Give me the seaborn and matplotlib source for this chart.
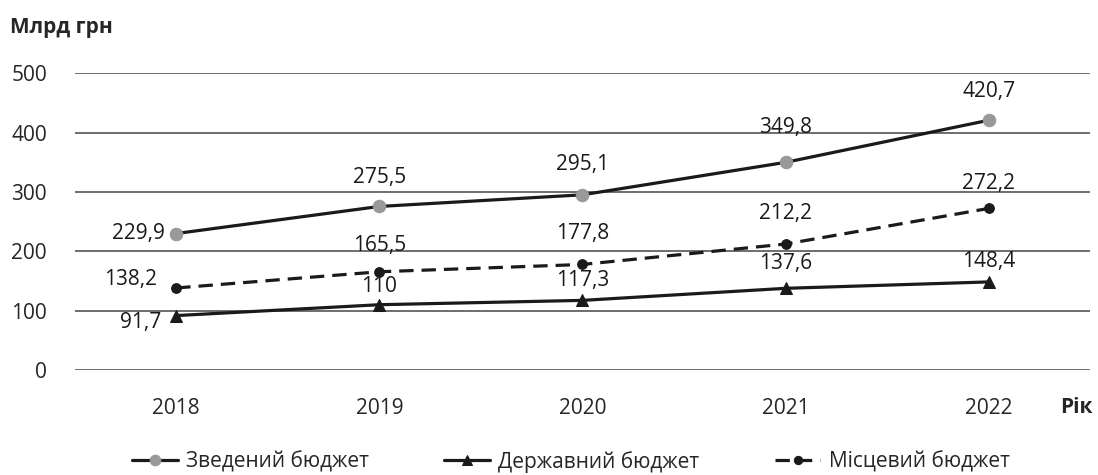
import matplotlib
matplotlib.use("Agg")
import matplotlib.pyplot as plt
import pandas as pd
import seaborn as sns

years = [2018, 2019, 2020, 2021, 2022]
zvedenyi = [229.9, 275.5, 295.1, 349.8, 420.7]
derzhavnyi = [91.7, 110, 117.3, 137.6, 148.4]
mistsevyi = [138.2, 165.5, 177.8, 212.2, 272.2]
series_names = ["Зведений бюджет", "Державний бюджет", "Місцевий бюджет"]
y_ticks = [0, 100, 200, 300, 400, 500]

sns.set_theme(style="white")
plt.rcParams["font.family"] = ["Open Sans", "DejaVu Sans"]

fig = plt.figure(figsize=(10.98, 4.75), dpi=100)
ax = fig.add_axes([0.068, 0.221, 0.925, 0.625])

FS = 15
INK = "#1a1a1a"

def fmt(v):
    return f"{v:g}".replace(".", ",")

# lines
styles = [
    dict(ls="-", marker="o", mfc="#999999", ms=9),
    dict(ls="-", marker="^", mfc=INK, ms=9),
    dict(ls=(0, (4.5, 2.5)), marker="o", mfc=INK, ms=7),
]
for name, vals, st in zip(series_names, [zvedenyi, derzhavnyi, mistsevyi], styles):
    df = pd.DataFrame({"year": years, "value": vals})
    sns.lineplot(data=df, x="year", y="value", ax=ax, color=INK, linestyle=st["ls"],
                 linewidth=2.3, marker=st["marker"], markerfacecolor=st["mfc"],
                 markeredgecolor=st["mfc"], markersize=st["ms"], label=name, zorder=3)

# value labels: first year to the left of the point, the rest above it
def label(vals, first_off, offsets):
    for i, (x, v) in enumerate(zip(years, vals)):
        if i == 0:
            ax.annotate(fmt(v), (x, v), xytext=first_off, textcoords="offset points",
                        ha="right", va="center", fontsize=FS, color=INK)
        else:
            ax.annotate(fmt(v), (x, v), xytext=(0, offsets[i - 1]), textcoords="offset points",
                        ha="center", va="center", fontsize=FS, color=INK)

label(zvedenyi, (-8, 0), [21, 22, 25, 21])
label(mistsevyi, (-14, 6), [19, 22, 22, 18])
label(derzhavnyi, (-11, -5), [13, 14, 18, 15])

ax.set_xlim(2017.5, 2022.5)
ax.set_ylim(0, 500)
ax.set_xticks(years)
ax.set_xticklabels([str(y) for y in years], fontsize=FS)
ax.set_yticks(y_ticks)
ax.set_yticklabels([str(t) for t in y_ticks], fontsize=FS)
ax.tick_params(axis="x", pad=20, length=0)
ax.tick_params(axis="y", pad=20, length=0)
ax.yaxis.grid(True, color="#555555", linewidth=1.2)
ax.set_axisbelow(True)
for s in ax.spines.values():
    s.set_visible(False)
ax.set_xlabel("")
ax.set_ylabel("")

fig.text(0.009, 0.943, "Млрд грн", fontsize=FS, fontweight="bold", ha="left", va="center")
fig.text(0.98, 0.143, "Рік", fontsize=FS, fontweight="bold", ha="center", va="center")

handles, labels = ax.get_legend_handles_labels()
ax.get_legend().remove()
fig.legend(handles, labels, loc="center", bbox_to_anchor=(0.52, 0.028), ncol=3,
           frameon=False, fontsize=FS, handlelength=2.2, columnspacing=3.6,
           handletextpad=0.4, markerscale=0.85)

fig.savefig("out.png", dpi=100)
